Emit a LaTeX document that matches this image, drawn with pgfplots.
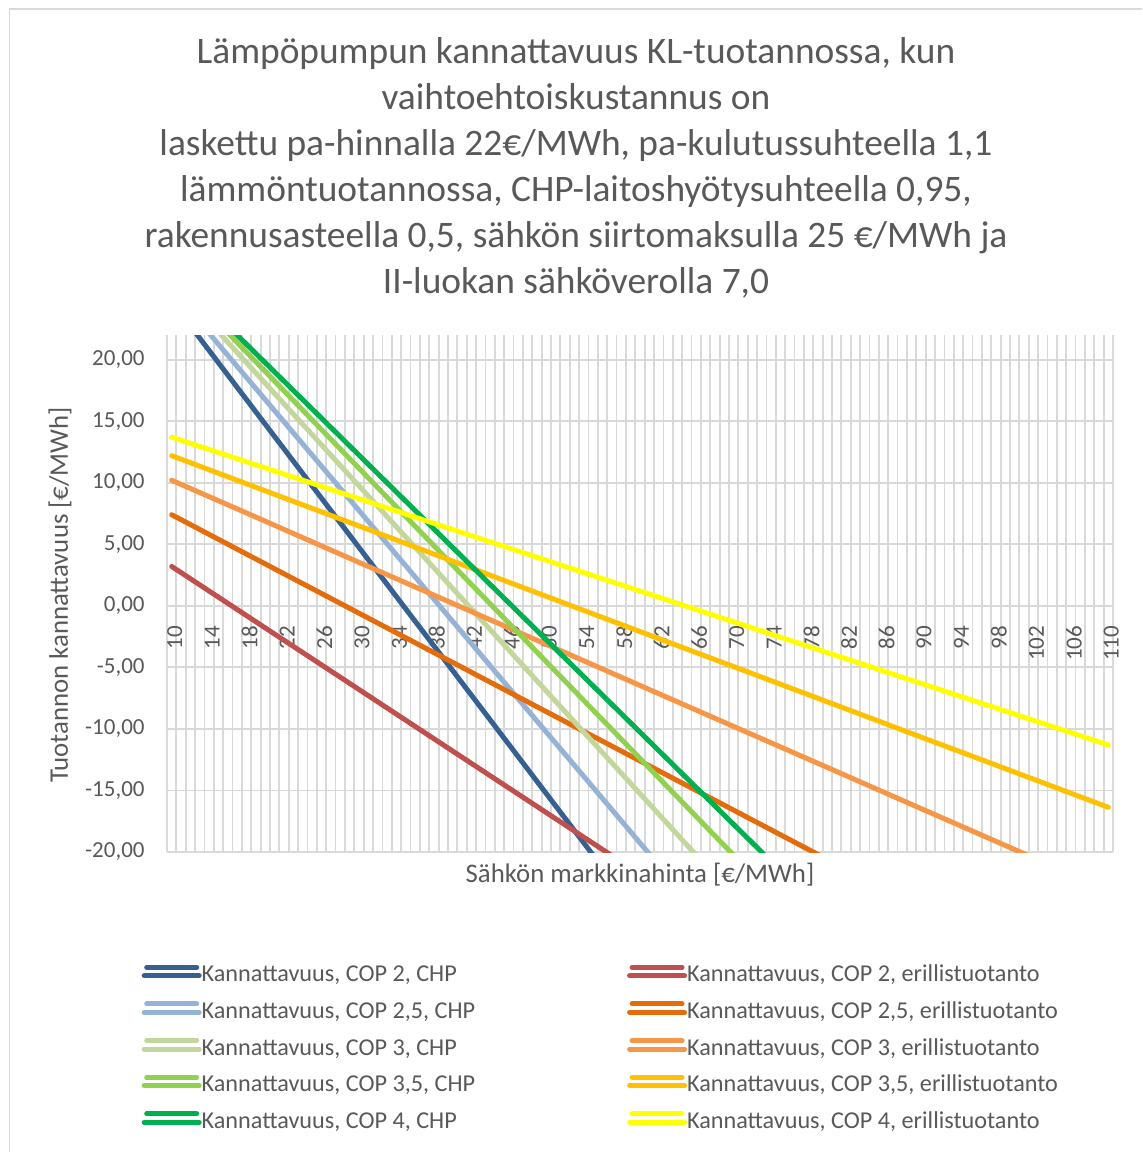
\documentclass[border=0pt]{standalone}
\usepackage{pgfplots}
\pgfplotsset{compat=1.18}
\usepackage{fontspec}
\setmainfont{Carlito}
\definecolor{txt}{HTML}{595959}
\definecolor{grd}{HTML}{D9D9D9}
\definecolor{cA}{HTML}{376092}
\definecolor{cB}{HTML}{95B3D7}
\definecolor{cC}{HTML}{C3D69B}
\definecolor{cD}{HTML}{92D050}
\definecolor{cE}{HTML}{00B050}
\definecolor{sA}{HTML}{C0504D}
\definecolor{sB}{HTML}{E46C0A}
\definecolor{sC}{HTML}{F79646}
\definecolor{sD}{HTML}{FFC000}
\definecolor{sE}{HTML}{FFFF00}
\begin{document}
\begin{tikzpicture}
\useasboundingbox (-83.5pt,-150pt) rectangle (487.5pt,426pt);
\fill[white] (-83.5pt,-150pt) rectangle (487.5pt,426pt);
\draw[grd, line width=0.75pt] (-78.75pt,-150pt) -- (-78.75pt,421.5pt) -- (487.5pt,421.5pt);
\begin{scope}[font=\fontsize{18.7}{23}\selectfont, txt]
\node[anchor=base] at (204.5pt,394pt) {Lämpöpumpun kannattavuus KL-tuotannossa, kun};
\node[anchor=base] at (204.5pt,371pt) {vaihtoehtoiskustannus on};
\node[anchor=base] at (204.5pt,348pt) {laskettu pa-hinnalla 22€/MWh, pa-kulutussuhteella 1,1};
\node[anchor=base] at (204.5pt,325pt) {lämmöntuotannossa, CHP-laitoshyötysuhteella 0,95,};
\node[anchor=base] at (204.5pt,302pt) {rakennusasteella 0,5, sähkön siirtomaksulla 25 €/MWh ja};
\node[anchor=base] at (204.5pt,279pt) {II-luokan sähköverolla 7,0};
\end{scope}
\node[anchor=base, rotate=90, txt, font=\fontsize{13.4}{15}\selectfont, inner sep=0pt] at (-49.5pt,128.5pt) {Tuotannon kannattavuus [€/MWh]};
\node[anchor=base, txt, font=\fontsize{13.4}{15}\selectfont, inner sep=0pt] at (236.5pt,-15pt) {Sähkön markkinahinta [€/MWh]};
\begin{axis}[
  at={(0pt,0pt)}, anchor=south west, scale only axis,
  width=473pt, height=258.5pt,
  xmin=9.5, xmax=110.5, ymin=-20, ymax=22,
  axis x line*=middle, axis y line*=left,
  axis line style={draw=none},
  major tick length=0pt, minor tick length=0pt,
  xtick={10,14,...,110},
  xticklabels={10,14,18,22,26,30,34,38,42,46,50,54,58,62,66,70,74,78,82,86,90,94,98,102,106,110},
  minor xtick={9.5,10.5,...,110.5},
  ytick={-20,-15,...,20},
  yticklabels={{-20,00},{-15,00},{-10,00},{-5,00},{0,00},{5,00},{10,00},{15,00},{20,00}},
  xmajorgrids=false, xminorgrids=true, ymajorgrids=true,
  major grid style={grd, line width=0.9pt},
  minor grid style={grd, line width=0.9pt},
  tick label style={font=\fontsize{11.5}{13}\selectfont, text=txt, inner sep=0pt},
  xticklabel style={yshift=-9.8pt, xshift=1.5pt, rotate=90, anchor=east},
  yticklabel style={anchor=east, xshift=-11pt},
  every axis plot/.append style={line width=2.5pt, line cap=round, line join=round, no marks},
  legend columns=2,
  legend cell align=left,
  legend style={at={(-0.02674,-0.2161)}, anchor=north west, draw=none, fill=none,
    inner sep=0pt, outer sep=0pt,
    font=\fontsize{12.1}{14}\selectfont, text=txt,
    row sep=6.33pt,
    nodes={inner sep=0pt, text height=9pt, text depth=3pt},
    /tikz/every odd column/.append style={column sep=0pt},
    /tikz/every even column/.append style={column sep=76pt}},
  legend image code/.code={\draw[#1, line width=2.5pt, line cap=round] (1.25pt,4.2pt) -- (26.25pt,4.2pt); \path (0pt,0pt) -- (27.5pt,0pt);},
]
\addplot[cA] coordinates {(10,24.74) (20,14.74) (30,4.74) (40,-5.26) (50,-15.26) (60,-25.26)};
\addlegendentry{Kannattavuus, COP 2, CHP}
\addplot[sA] coordinates {(10,3.2) (20,-1.8) (30,-6.8) (40,-11.8) (50,-16.8) (60,-21.8)};
\addlegendentry{Kannattavuus, COP 2, erillistuotanto}
\addplot[cB] coordinates {(10,25.74) (20,16.74) (30,7.74) (40,-1.26) (50,-10.26) (60,-19.26) (70,-28.26)};
\addlegendentry{Kannattavuus, COP 2,5, CHP}
\addplot[sB] coordinates {(10,7.4) (20,3.4) (30,-0.6) (40,-4.6) (50,-8.6) (60,-12.6) (70,-16.6) (80,-20.6)};
\addlegendentry{Kannattavuus, COP 2,5, erillistuotanto}
\addplot[cC] coordinates {(10,26.41) (20,18.07) (30,9.74) (40,1.41) (50,-6.93) (60,-15.26) (70,-23.59)};
\addlegendentry{Kannattavuus, COP 3, CHP}
\addplot[sC] coordinates {(10,10.2) (20,6.87) (30,3.53) (40,0.20) (50,-3.13) (60,-6.47) (70,-9.80) (80,-13.13) (90,-16.47) (100,-19.80) (110,-23.13)};
\addlegendentry{Kannattavuus, COP 3, erillistuotanto}
\addplot[cD] coordinates {(10,26.88) (20,19.03) (30,11.17) (40,3.31) (50,-4.55) (60,-12.40) (70,-20.26) (80,-28.12)};
\addlegendentry{Kannattavuus, COP 3,5, CHP}
\addplot[sD] coordinates {(10,12.20) (20,9.34) (30,6.49) (40,3.63) (50,0.77) (60,-2.09) (70,-4.94) (80,-7.80) (90,-10.66) (100,-13.51) (110,-16.37)};
\addlegendentry{Kannattavuus, COP 3,5, erillistuotanto}
\addplot[cE] coordinates {(10,27.24) (20,19.74) (30,12.24) (40,4.74) (50,-2.76) (60,-10.26) (70,-17.76) (80,-25.26)};
\addlegendentry{Kannattavuus, COP 4, CHP}
\addplot[sE] coordinates {(10,13.7) (20,11.2) (30,8.7) (40,6.2) (50,3.7) (60,1.2) (70,-1.3) (80,-3.8) (90,-6.3) (100,-8.8) (110,-11.3)};
\addlegendentry{Kannattavuus, COP 4, erillistuotanto}
\end{axis}
\end{tikzpicture}
\end{document}
